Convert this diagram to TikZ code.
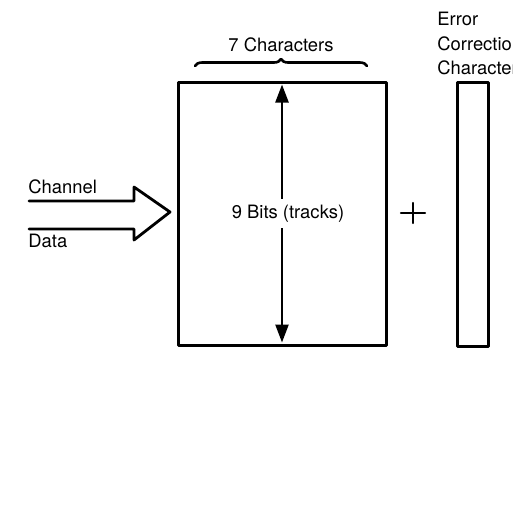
\documentclass[tikz,border=0pt]{standalone}
\usepackage{fontspec}
\setmainfont{TeX Gyre Heros}
\usetikzlibrary{arrows.meta,decorations.pathreplacing,positioning}
\begin{document}
\begin{tikzpicture}[x=0.5pt,y=-0.5pt,line cap=round,line join=round,
    lbl/.style={inner sep=0pt,font=\fontsize{9.2}{11}\selectfont},
    frame/.style={draw,line width=1.5pt,inner sep=0pt},
    bitstip/.tip={Triangle[length=9pt,width=6.5pt]}]
  \useasboundingbox (0,0) rectangle (513,505);
  % data block and error correction character
  \node[frame,minimum width=104pt,minimum height=131.5pt] (charbox) at (282,213.5) {};
  \node[frame,minimum width=15.5pt,minimum height=132pt] (eccbox) at (472.5,214) {};
  \draw[line width=1.2pt,bitstip-bitstip] ([yshift=-2pt]charbox.north) -- ([yshift=2pt]charbox.south);
  \node[lbl,fill=white,inner ysep=3pt,anchor=base] (bits) at (288,218) {9 Bits (tracks)};
  % plus sign
  \draw[line width=1.1pt] (401,213) -- (425,213) (413,203) -- (413,223);
  % channel data arrow
  \draw[line width=1.4pt] (29,201) -- (134,201) -- (134,187) -- (170,212) -- (134,240) -- (134,229) -- (29,229);
  \node[lbl,anchor=base west] (channel) at (28,193) {Channel};
  \node[lbl,anchor=base west] (data) at (28,247) {Data};
  % brace over the block
  \draw[line width=1.3pt,decorate,decoration={brace,amplitude=3.5pt}] (195,66) -- (367,66);
  \node[lbl,anchor=base] (chars) at (281,51) {7 Characters};
  \node[lbl,anchor=base west] (err) at (437,25) {Error};
  \node[lbl,anchor=base west] (corr) at (437,50) {Correction};
  \node[lbl,anchor=base west] (char) at (437,74) {Character};
\end{tikzpicture}
\end{document}
